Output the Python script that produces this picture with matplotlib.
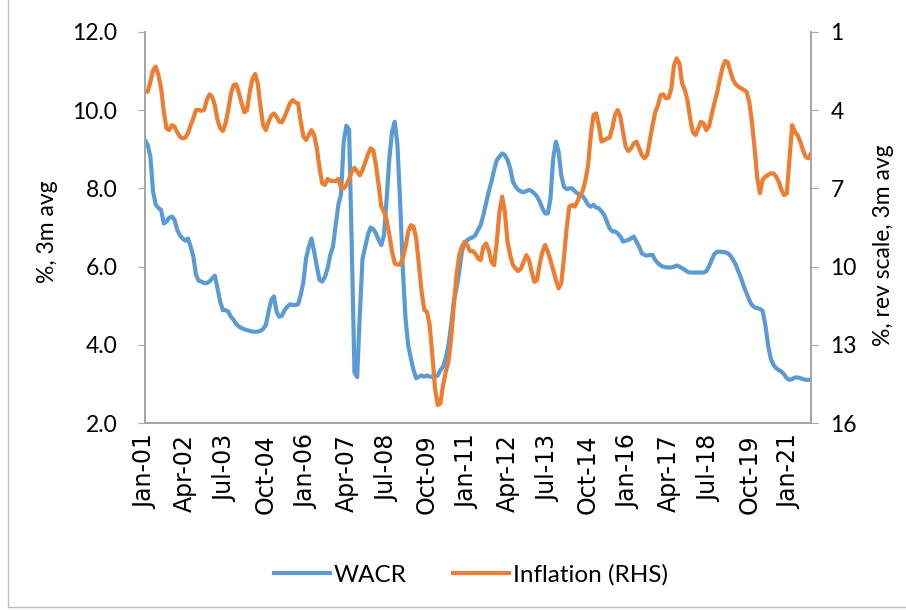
import numpy as np
import pandas as pd
import matplotlib
matplotlib.use("Agg")
import matplotlib.pyplot as plt
from matplotlib.lines import Line2D

# monthly, Jan 2001 .. Sep 2021
start_month = "2001-01"

wacr = [
    9.23, 9.11, 8.81, 7.92, 7.58, 7.5, 7.45, 7.1, 7.15, 7.25, 7.28, 7.2,
    6.94, 6.8, 6.72, 6.66, 6.72, 6.51, 6.26, 5.79, 5.64, 5.62, 5.58, 5.58,
    5.62, 5.7, 5.77, 5.45, 5.1, 4.89, 4.89, 4.85, 4.72, 4.64, 4.53, 4.47,
    4.43, 4.4, 4.38, 4.36, 4.34, 4.34, 4.34, 4.36, 4.41, 4.51, 4.85, 5.15,
    5.24, 4.85, 4.72, 4.75, 4.89, 4.98, 5.04, 5.02, 5.02, 5.04, 5.28, 5.62,
    6.22, 6.51, 6.72, 6.38, 6.0, 5.66, 5.62, 5.74, 5.96, 6.3, 6.51, 7.06,
    7.58, 7.85, 9.2, 9.6, 9.5, 6.5, 3.3, 3.18, 4.8, 6.2, 6.5, 6.81,
    7.0, 6.96, 6.85, 6.68, 6.55, 6.81, 7.75, 8.77, 9.45, 9.7, 9.11, 7.66,
    5.96, 4.68, 4.0, 3.66, 3.36, 3.15, 3.19, 3.22, 3.19, 3.22, 3.19, 3.19,
    3.19, 3.22, 3.36, 3.45, 3.66, 4.0, 4.51, 5.11, 5.45, 5.87, 6.38, 6.6,
    6.68, 6.72, 6.75, 6.8, 6.94, 7.06, 7.32, 7.62, 7.92, 8.17, 8.47, 8.72,
    8.81, 8.89, 8.85, 8.72, 8.51, 8.17, 8.04, 7.96, 7.92, 7.9, 7.93, 7.96,
    7.93, 7.87, 7.79, 7.66, 7.49, 7.36, 7.36, 7.75, 8.77, 9.19, 8.94, 8.34,
    8.04, 7.98, 8.0, 8.0, 7.93, 7.87, 7.83, 7.8, 7.7, 7.58, 7.53, 7.58,
    7.51, 7.49, 7.41, 7.32, 7.15, 6.98, 6.9, 6.9, 6.85, 6.77, 6.64, 6.66,
    6.68, 6.72, 6.77, 6.64, 6.51, 6.34, 6.3, 6.28, 6.3, 6.3, 6.17, 6.09,
    6.03, 6.0, 5.98, 5.98, 5.98, 6.0, 6.03, 6.0, 5.96, 5.92, 5.87, 5.85,
    5.85, 5.85, 5.85, 5.85, 5.85, 5.88, 6.0, 6.17, 6.32, 6.38, 6.38, 6.38,
    6.37, 6.34, 6.28, 6.17, 6.05, 5.87, 5.7, 5.49, 5.32, 5.15, 5.02, 4.96,
    4.94, 4.92, 4.87, 4.51, 4.0, 3.66, 3.49, 3.41, 3.36, 3.32, 3.25, 3.15,
    3.11, 3.13, 3.17, 3.17, 3.15, 3.13, 3.11, 3.11, 3.11,
]

inflation = [
    3.3, 3.3, 2.92, 2.47, 2.34, 2.66, 3.17, 4.06, 4.7, 4.77, 4.58, 4.64,
    4.85, 5.02, 5.09, 5.06, 4.89, 4.58, 4.32, 4.0, 4.0, 4.03, 4.0, 3.62,
    3.4, 3.49, 3.81, 4.38, 4.7, 4.8, 4.51, 4.0, 3.36, 3.04, 3.02, 3.36,
    3.74, 4.09, 4.0, 3.3, 2.82, 2.62, 2.98, 3.87, 4.58, 4.77, 4.45, 4.22,
    4.13, 4.26, 4.45, 4.47, 4.26, 4.0, 3.74, 3.62, 3.71, 3.74, 4.45, 5.02,
    5.15, 4.96, 4.77, 4.96, 5.47, 6.23, 6.81, 6.87, 6.64, 6.71, 6.72, 6.72,
    6.64, 6.98, 7.0, 6.87, 6.64, 6.36, 6.21, 6.36, 6.5, 6.3, 6.0, 5.7,
    5.47, 5.54, 6.11, 6.87, 7.7, 7.9, 8.22, 8.79, 9.43, 9.88, 9.92, 9.92,
    9.68, 9.24, 8.66, 8.41, 8.47, 8.92, 9.94, 10.96, 11.66, 11.73, 12.24, 13.39,
    14.66, 15.3, 15.24, 14.54, 14.03, 13.64, 12.75, 11.47, 10.32, 9.56, 9.24, 9.05,
    9.17, 9.4, 9.4, 9.5, 9.68, 9.75, 9.24, 9.11, 9.36, 9.81, 9.94, 9.05,
    7.9, 7.32, 7.9, 9.05, 9.56, 9.94, 10.07, 10.17, 10.07, 9.81, 9.56, 9.75,
    10.2, 10.58, 10.51, 9.88, 9.43, 9.17, 9.43, 9.75, 10.13, 10.51, 10.83, 10.64,
    9.68, 8.53, 7.7, 7.64, 7.7, 7.51, 7.26, 7.1, 6.7, 6.11, 4.96, 4.19,
    4.13, 4.58, 5.21, 5.15, 5.09, 5.06, 4.7, 4.19, 4.0, 4.26, 4.83, 5.41,
    5.57, 5.47, 5.28, 5.21, 5.47, 5.72, 5.85, 5.72, 5.15, 4.58, 4.09, 3.81,
    3.43, 3.4, 3.55, 3.53, 3.17, 2.28, 2.02, 2.21, 2.98, 3.23, 3.62, 4.32,
    4.85, 4.96, 4.7, 4.45, 4.51, 4.77, 4.64, 4.19, 3.74, 3.36, 2.85, 2.4,
    2.12, 2.17, 2.53, 2.85, 3.02, 3.11, 3.17, 3.23, 3.3, 3.68, 4.45, 5.47,
    6.62, 7.19, 6.68, 6.55, 6.49, 6.43, 6.43, 6.55, 6.75, 7.06, 7.26, 7.19,
    5.85, 4.58, 4.83, 4.96, 5.21, 5.53, 5.79, 5.85, 5.66,
]

left_ticks = [2, 4, 6, 8, 10, 12]
right_ticks = [1, 4, 7, 10, 13, 16]

dates = pd.date_range(start_month, periods=len(wacr), freq="MS")
x = np.arange(len(wacr))
tick_pos = x[::15]
tick_labels = dates[::15].strftime("%b-%y")

blue = "#5B9BD5"
orange = "#ED7D31"
grey = "#A6A6A6"
txt_font = "Lato"
fs = 16.5

fig = plt.figure(figsize=(9.06, 6.10), dpi=100)
ax = fig.add_axes([145 / 906, 1 - 423.3 / 610, (811 - 145) / 906, (423.3 - 31.7) / 610])
ax2 = ax.twinx()

l1, = ax.plot(x, wacr, color=blue, linewidth=3, label="WACR")
l2, = ax2.plot(x, inflation, color=orange, linewidth=3, label="Inflation (RHS)")

ax.set_xlim(0, len(wacr) - 1)
ax.set_ylim(2, 12)
ax.set_yticks(left_ticks)
ax.set_yticklabels(["%.1f" % v for v in left_ticks], fontname=txt_font, fontsize=fs)
ax2.set_ylim(16, 1)
ax2.set_yticks(right_ticks)
ax2.set_yticklabels([str(v) for v in right_ticks], fontname=txt_font, fontsize=fs)

ax.set_xticks(tick_pos)
ax.set_xticklabels(tick_labels, rotation=90, fontname="DejaVu Sans", fontsize=17)
ax.tick_params(axis="x", length=0, pad=8)
ax.tick_params(axis="y", length=5, color=grey, pad=15)
ax2.tick_params(axis="y", length=5, color=grey, pad=9)

for a in (ax, ax2):
    a.spines["top"].set_visible(False)
    for s in ("left", "right", "bottom"):
        a.spines[s].set_color(grey)
        a.spines[s].set_linewidth(1.3)

# axis titles placed like the original chart
fig.text(48 / 906, 1 - 232 / 610, "%, 3m avg", rotation=90, ha="center", va="center",
         fontname=txt_font, fontsize=fs)
fig.text(884 / 906, 1 - 245 / 610, "%, rev scale, 3m avg", rotation=90, ha="center", va="center",
         fontname=txt_font, fontsize=fs)

leg = fig.legend(handles=[l1, l2], loc="center", bbox_to_anchor=(471 / 906, 1 - 575 / 610),
                 ncol=2, frameon=False, prop={"family": txt_font, "size": 17.5},
                 handlelength=2.3, columnspacing=1.9, handletextpad=0.15)

# chart area border (left and bottom edges visible)
fig.add_artist(Line2D([8 / 906, 8 / 906], [3 / 610, 1], transform=fig.transFigure, color="#BFBFBF", lw=1))
fig.add_artist(Line2D([8 / 906, 1], [3 / 610, 3 / 610], transform=fig.transFigure, color="#BFBFBF", lw=1))

plt.savefig("out.png", dpi=100)
